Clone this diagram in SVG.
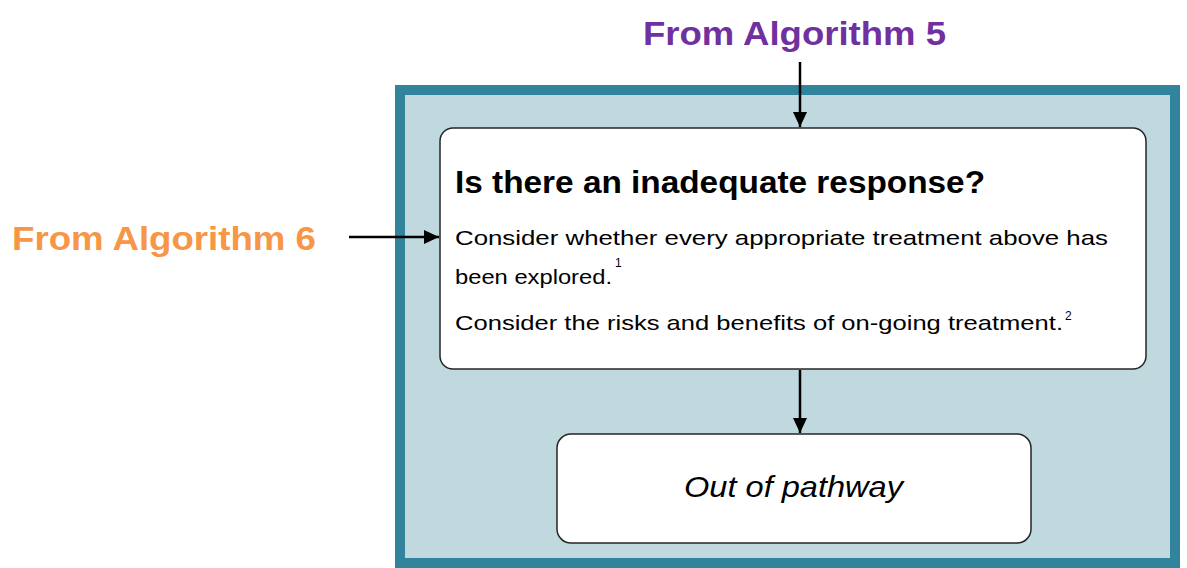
<svg xmlns="http://www.w3.org/2000/svg" width="1187" height="568" viewBox="0 0 1187 568">
  <defs>
    <marker id="arrow" markerWidth="15" markerHeight="14" refX="15" refY="7" orient="auto" markerUnits="userSpaceOnUse" viewBox="0 0 15 14">
      <path d="M0,0 L15,7 L0,14 Z" fill="#000"/>
    </marker>
    <style>
      .node { fill: #ffffff; stroke: #262626; stroke-width: 1.5; }
      .body { font-family: "Liberation Sans", Arial, sans-serif; font-size: 21px; fill: #000; }
      .sup { font-family: "Liberation Sans", Arial, sans-serif; font-size: 12px; fill: #000; }
      .src { font-family: "Liberation Sans", Arial, sans-serif; font-size: 33px; font-weight: bold; }
      .conn { stroke: #000; stroke-width: 2.5; fill: none; }
    </style>
  </defs>
  <rect width="1187" height="568" fill="#ffffff"/>

  <!-- pathway container -->
  <g id="container">
    <rect x="400" y="90" width="775" height="473" fill="#BFD9DF" stroke="#31849B" stroke-width="10"/>
  </g>

  <!-- entry labels -->
  <g id="from-alg5">
    <text class="src" x="643" y="45" fill="#7030A0" textLength="303" lengthAdjust="spacingAndGlyphs">From Algorithm 5</text>
  </g>
  <g id="from-alg6">
    <text class="src" x="12" y="250" fill="#F79646" textLength="304" lengthAdjust="spacingAndGlyphs">From Algorithm 6</text>
  </g>

  <!-- decision node -->
  <g id="decision">
    <rect class="node" x="440" y="128" width="706" height="241" rx="13" ry="13"/>
    <text x="455" y="193" font-family="Liberation Sans, Arial, sans-serif" font-size="31" font-weight="bold" fill="#000" textLength="530" lengthAdjust="spacingAndGlyphs">Is there an inadequate response?</text>
    <text class="body" x="455" y="245" textLength="653" lengthAdjust="spacingAndGlyphs">Consider whether every appropriate treatment above has</text>
    <text class="body" x="455" y="284" textLength="157" lengthAdjust="spacingAndGlyphs">been explored.</text>
    <text class="sup" x="615" y="267">1</text>
    <text class="body" x="455" y="330" textLength="608" lengthAdjust="spacingAndGlyphs">Consider the risks and benefits of on-going treatment.</text>
    <text class="sup" x="1065" y="320">2</text>
  </g>

  <!-- terminal node -->
  <g id="out-of-pathway">
    <rect class="node" x="557" y="434" width="474" height="109" rx="14" ry="14"/>
    <text x="684" y="497" font-family="Liberation Sans, Arial, sans-serif" font-size="29" font-style="italic" fill="#000" textLength="219" lengthAdjust="spacingAndGlyphs">Out of pathway</text>
  </g>

  <!-- connectors -->
  <g id="connectors">
    <line class="conn" x1="800" y1="62" x2="800" y2="127" marker-end="url(#arrow)"/>
    <line class="conn" x1="349" y1="237" x2="439" y2="237" marker-end="url(#arrow)"/>
    <line class="conn" x1="800" y1="370" x2="800" y2="433" marker-end="url(#arrow)"/>
  </g>
</svg>
